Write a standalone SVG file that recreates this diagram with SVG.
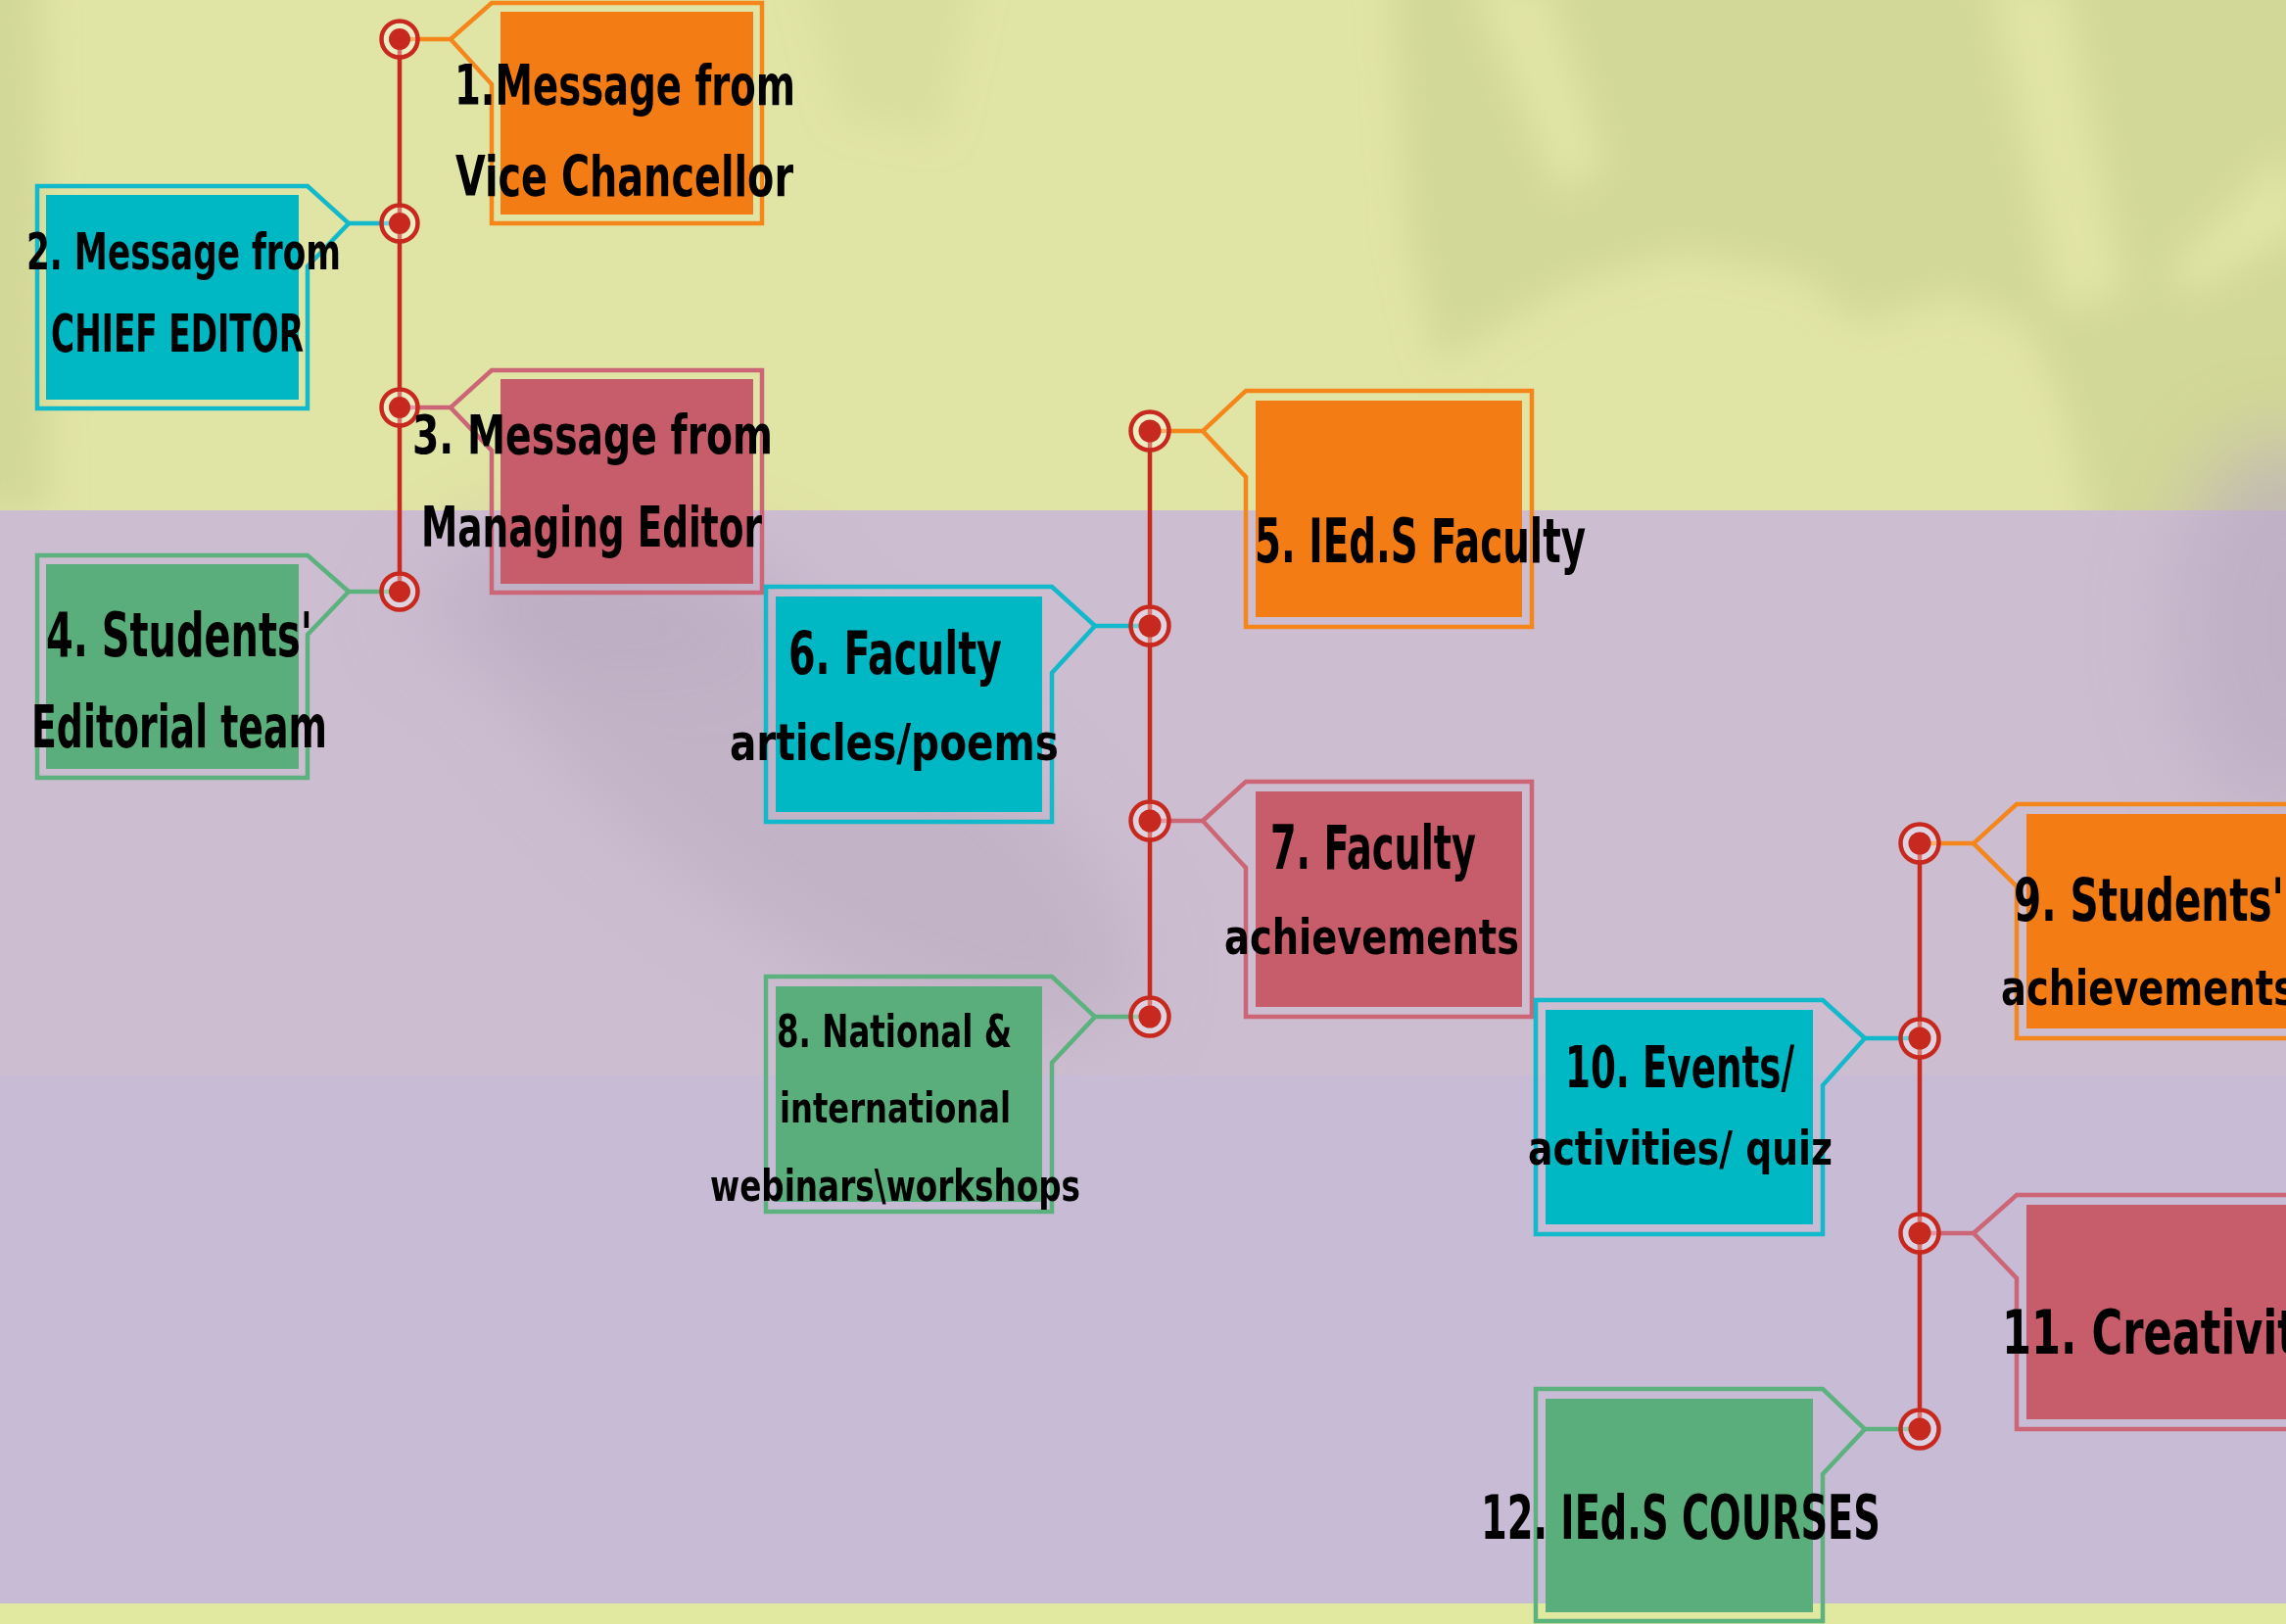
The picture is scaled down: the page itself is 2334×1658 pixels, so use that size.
<svg xmlns="http://www.w3.org/2000/svg" width="2334" height="1658" viewBox="0 0 2334 1658">
<defs>
<style>
.frame{fill:none;stroke-width:4.5;stroke-linejoin:miter}
.stub{stroke-width:4.5;fill:none}
.o .frame,.o.stub{stroke:#f5861c}
.o .fill{fill:#f47c14}
.c .frame,.c.stub{stroke:#12b9ca}
.c .fill{fill:#00b7c4}
.p .frame,.p.stub{stroke:#cc6575}
.p .fill{fill:#c75c6b}
.g .frame,.g.stub{stroke:#5cb27e}
.g .fill{fill:#5aae7c}
.spine{stroke:#c8291f;stroke-width:4.5;fill:none}
.ring{stroke:#c8291f;stroke-width:4.5;fill:#ffffff;fill-opacity:0.35}
.dot{fill:#c8291f}
text{font-family:"DejaVu Sans Condensed","DejaVu Sans",sans-serif;font-weight:bold;fill:#000;}
</style>
<filter id="blur" x="-40%" y="-40%" width="180%" height="180%"><feGaussianBlur stdDeviation="40"/></filter>
<filter id="blur2" x="-30%" y="-30%" width="160%" height="160%"><feGaussianBlur stdDeviation="18"/></filter>
</defs>

<g id="background">
<rect x="0" y="0" width="2334" height="521" fill="#e0e4a4"/>
<g filter="url(#blur2)" fill="#d2d897">
<path d="M1420,-40 L2380,-40 L2380,560 L2140,560 L2110,420 L2070,330 L1990,300 L1900,330 L1840,280 L1720,255 L1600,290 L1470,370 L1440,250 Z"/>
<path d="M-40,-40 L40,-40 L50,520 L-40,520 Z"/>
<path d="M820,-40 L1000,-40 L960,140 L860,120 Z" opacity="0.5"/>
</g>
<g filter="url(#blur2)" fill="#e0e4a5">
<path d="M1500,-20 L1580,-20 L1640,170 L1590,200 Z"/>
<path d="M2030,-20 L2110,-20 L2170,300 L2100,320 Z"/>
<path d="M2210,280 L2334,150 L2360,230 L2240,300 Z"/>
<path d="M1500,560 L1560,400 L1720,330 L1850,360 L1900,380 L2060,370 L2100,560 Z"/>
</g>
<rect x="0" y="521" width="2334" height="577" fill="#cdbdd1"/>
<g filter="url(#blur)" fill="#baabc0">
<ellipse cx="820" cy="800" rx="400" ry="140" transform="rotate(35 820 800)" opacity="0.6"/>
<ellipse cx="620" cy="620" rx="200" ry="70" opacity="0.45"/>
<ellipse cx="2330" cy="640" rx="110" ry="190" opacity="0.7"/>
</g>
<rect x="0" y="1098" width="2334" height="539" fill="#c8bbd5"/>
<rect x="0" y="1637" width="2334" height="21" fill="#e1e8a0"/>
</g>

<g id="connectors">
<line class="spine" x1="408" y1="40" x2="408" y2="604"/>
<line class="spine" x1="1174" y1="440" x2="1174" y2="1038"/>
<line class="spine" x1="1960" y1="861" x2="1960" y2="1459"/>
<line class="stub o" x1="408" y1="40" x2="460" y2="40"/>
<line class="stub c" x1="356" y1="228" x2="408" y2="228"/>
<line class="stub p" x1="408" y1="416" x2="460" y2="416"/>
<line class="stub g" x1="356" y1="604" x2="408" y2="604"/>
<line class="stub o" x1="1174" y1="440" x2="1228" y2="440"/>
<line class="stub c" x1="1118" y1="639" x2="1174" y2="639"/>
<line class="stub p" x1="1174" y1="838" x2="1228" y2="838"/>
<line class="stub g" x1="1118" y1="1038" x2="1174" y2="1038"/>
<line class="stub o" x1="1960" y1="861" x2="2015" y2="861"/>
<line class="stub c" x1="1904" y1="1060" x2="1960" y2="1060"/>
<line class="stub p" x1="1960" y1="1259" x2="2015" y2="1259"/>
<line class="stub g" x1="1904" y1="1459" x2="1960" y2="1459"/>
<g id="joints">
<circle class="ring" cx="408" cy="40" r="18.5"/><circle class="dot" cx="408" cy="40" r="11"/>
<circle class="ring" cx="408" cy="228" r="18.5"/><circle class="dot" cx="408" cy="228" r="11"/>
<circle class="ring" cx="408" cy="416" r="18.5"/><circle class="dot" cx="408" cy="416" r="11"/>
<circle class="ring" cx="408" cy="604" r="18.5"/><circle class="dot" cx="408" cy="604" r="11"/>
<circle class="ring" cx="1174" cy="440" r="19.5"/><circle class="dot" cx="1174" cy="440" r="11.5"/>
<circle class="ring" cx="1174" cy="639" r="19.5"/><circle class="dot" cx="1174" cy="639" r="11.5"/>
<circle class="ring" cx="1174" cy="838" r="19.5"/><circle class="dot" cx="1174" cy="838" r="11.5"/>
<circle class="ring" cx="1174" cy="1038" r="19.5"/><circle class="dot" cx="1174" cy="1038" r="11.5"/>
<circle class="ring" cx="1960" cy="861" r="19.5"/><circle class="dot" cx="1960" cy="861" r="11.5"/>
<circle class="ring" cx="1960" cy="1060" r="19.5"/><circle class="dot" cx="1960" cy="1060" r="11.5"/>
<circle class="ring" cx="1960" cy="1259" r="19.5"/><circle class="dot" cx="1960" cy="1259" r="11.5"/>
<circle class="ring" cx="1960" cy="1459" r="19.5"/><circle class="dot" cx="1960" cy="1459" r="11.5"/>
</g>
</g>

<g id="node1" class="o">
<path class="frame" d="M502,3 L778,3 L778,228 L502,228 L502,86 L460,40 Z"/>
<rect class="fill" x="511" y="12" width="258" height="207"/>
<text x="464" y="107" font-size="57" textLength="348" lengthAdjust="spacingAndGlyphs">1.Message from</text>
<text x="465" y="200" font-size="57" textLength="345" lengthAdjust="spacingAndGlyphs">Vice Chancellor</text>
</g>

<g id="node2" class="c">
<path class="frame" d="M38,190 L314,190 L356,228 L314,272 L314,417 L38,417 Z"/>
<rect class="fill" x="47" y="199" width="258" height="209"/>
<text x="27" y="275" font-size="52" textLength="321" lengthAdjust="spacingAndGlyphs">2. Message from</text>
<text x="52" y="359" font-size="53" textLength="258" lengthAdjust="spacingAndGlyphs">CHIEF EDITOR</text>
</g>

<g id="node3" class="p">
<path class="frame" d="M502,378 L778,378 L778,605 L502,605 L502,460 L460,416 Z"/>
<rect class="fill" x="511" y="387" width="258" height="209"/>
<text x="421" y="463" font-size="55" textLength="368" lengthAdjust="spacingAndGlyphs">3. Message from</text>
<text x="430" y="558" font-size="57" textLength="348" lengthAdjust="spacingAndGlyphs">Managing Editor</text>
</g>

<g id="node4" class="g">
<path class="frame" d="M38,567 L314,567 L356,604 L314,648 L314,794 L38,794 Z"/>
<rect class="fill" x="47" y="576" width="258" height="209"/>
<text x="47" y="670" font-size="62" textLength="272" lengthAdjust="spacingAndGlyphs">4. Students'</text>
<text x="32" y="763" font-size="60" textLength="302" lengthAdjust="spacingAndGlyphs">Editorial team</text>
</g>

<g id="node5" class="o">
<path class="frame" d="M1272,399 L1564,399 L1564,640 L1272,640 L1272,487 L1228,440 Z"/>
<rect class="fill" x="1282" y="409" width="272" height="221"/>
<text x="1281" y="574" font-size="62" textLength="338" lengthAdjust="spacingAndGlyphs">5. IEd.S Faculty</text>
</g>

<g id="node6" class="c">
<path class="frame" d="M782,599 L1074,599 L1118,639 L1074,687 L1074,839 L782,839 Z"/>
<rect class="fill" x="792" y="609" width="272" height="220"/>
<text x="805" y="688" font-size="61" textLength="218" lengthAdjust="spacingAndGlyphs">6. Faculty</text>
<text x="745" y="776" font-size="52" textLength="336" lengthAdjust="spacingAndGlyphs">articles/poems</text>
</g>

<g id="node7" class="p">
<path class="frame" d="M1272,798 L1564,798 L1564,1038 L1272,1038 L1272,886 L1228,838 Z"/>
<rect class="fill" x="1282" y="808" width="272" height="220"/>
<text x="1297" y="887" font-size="62" textLength="210" lengthAdjust="spacingAndGlyphs">7. Faculty</text>
<text x="1250" y="974" font-size="50" textLength="301" lengthAdjust="spacingAndGlyphs">achievements</text>
</g>

<g id="node8" class="g">
<path class="frame" d="M782,997 L1074,997 L1118,1038 L1074,1085 L1074,1237 L782,1237 Z"/>
<rect class="fill" x="792" y="1007" width="272" height="220"/>
<text x="793" y="1069" font-size="47" textLength="240" lengthAdjust="spacingAndGlyphs">8. National &amp;</text>
<text x="796" y="1146" font-size="42" textLength="236" lengthAdjust="spacingAndGlyphs">international</text>
<text x="725" y="1226" font-size="44" textLength="378" lengthAdjust="spacingAndGlyphs">webinars\workshops</text>
</g>

<g id="node9" class="o">
<path class="frame" d="M2059,821 L2352,821 L2352,1060 L2059,1060 L2059,905 L2015,861 Z"/>
<rect class="fill" x="2069" y="831" width="283" height="219"/>
<text x="2056" y="940" font-size="60" textLength="276" lengthAdjust="spacingAndGlyphs">9. Students'</text>
<text x="2043" y="1026" font-size="50" textLength="301" lengthAdjust="spacingAndGlyphs">achievements</text>
</g>

<g id="node10" class="c">
<path class="frame" d="M1568,1021 L1861,1021 L1904,1060 L1861,1108 L1861,1260 L1568,1260 Z"/>
<rect class="fill" x="1578" y="1031" width="273" height="219"/>
<text x="1598" y="1110" font-size="58" textLength="234" lengthAdjust="spacingAndGlyphs">10. Events/</text>
<text x="1560" y="1189" font-size="48" textLength="311" lengthAdjust="spacingAndGlyphs">activities/ quiz</text>
</g>

<g id="node11" class="p">
<path class="frame" d="M2059,1220 L2352,1220 L2352,1459 L2059,1459 L2059,1305 L2015,1259 Z"/>
<rect class="fill" x="2069" y="1230" width="283" height="219"/>
<text x="2044" y="1382" font-size="62" textLength="330" lengthAdjust="spacingAndGlyphs">11. Creativity</text>
</g>

<g id="node12" class="g">
<path class="frame" d="M1568,1418 L1861,1418 L1904,1459 L1861,1505 L1861,1655 L1568,1655 Z"/>
<rect class="fill" x="1578" y="1428" width="273" height="218"/>
<text x="1512" y="1571" font-size="62" textLength="408" lengthAdjust="spacingAndGlyphs">12. IEd.S COURSES</text>
</g>
</svg>
